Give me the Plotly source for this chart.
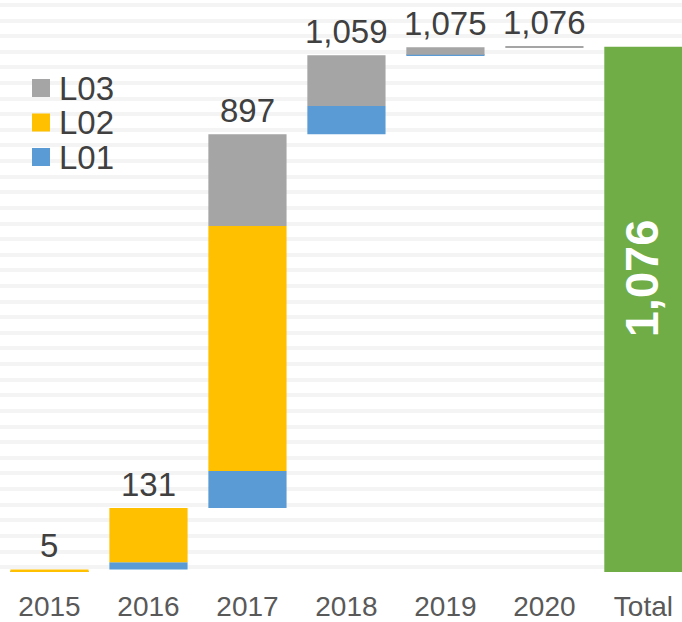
import plotly.graph_objects as go

categories = ["2015", "2016", "2017", "2018", "2019", "2020", "Total"]
years = categories[:-1]
l01 = [2, 15, 76, 58, 1, 0]
l02 = [3, 111, 502, 0, 0, 0]
l03 = [0, 0, 188, 104, 15, 1]
total_value = 1076
legend_names = ["L03", "L02", "L01"]

C_L01 = "#5B9BD5"
C_L02 = "#FFC000"
C_L03 = "#A5A5A5"
C_TOT = "#70AD47"
legend_colors = [C_L03, C_L02, C_L01]
FONT = "Liberation Sans, Arial, sans-serif"

# cumulative bases
cum = []
running = 0
for a, b, c in zip(l01, l02, l03):
    running += a + b + c
    cum.append(running)
prev = [0] + cum[:-1]
base01 = prev
base02 = [p + a for p, a in zip(prev, l01)]
base03 = [p + a + b for p, a, b in zip(prev, l01, l02)]

fig = go.Figure()
for vals, base, name, col in [(l01, base01, "L01", C_L01),
                              (l02, base02, "L02", C_L02),
                              (l03, base03, "L03", C_L03)]:
    fig.add_trace(go.Bar(x=years, y=vals, base=base, name=name, marker_color=col,
                         marker_line_width=0, hoverinfo="skip", showlegend=False))
fig.add_trace(go.Bar(x=["Total"], y=[total_value], base=[0], name="Total",
                     marker_color=C_TOT, marker_line_width=0, showlegend=False,
                     hoverinfo="skip"))

# data labels above each cumulative bar
for i, v in enumerate(cum):
    fig.add_annotation(x=i, y=v, text=f"{v:,}", showarrow=False, yanchor="middle",
                       yshift=24, font=dict(size=33, color="#404040", family=FONT))

# total label inside green bar
fig.add_annotation(x=len(years), y=total_value * 0.56, text=f"<b>{total_value:,}</b>",
                   showarrow=False, textangle=-90, xshift=-1,
                   font=dict(size=47, color="white", family=FONT))

# legend (manual, to match the compact spacing)
PLOT_H = 572
for k, (nm, col) in enumerate(zip(legend_names, legend_colors)):
    cy = 88 + 34.5 * k
    fig.add_shape(type="rect", xref="paper", yref="paper",
                  x0=32 / 682, x1=50 / 682,
                  y0=1 - (cy + 9) / PLOT_H, y1=1 - (cy - 9) / PLOT_H,
                  fillcolor=col, line_width=0)
    fig.add_annotation(xref="paper", yref="paper", x=57 / 682, y=1 - cy / PLOT_H,
                       xanchor="left", yanchor="middle", text=nm, showarrow=False,
                       font=dict(size=33, color="#404040", family=FONT))

fig.update_layout(
    width=682, height=622,
    margin=dict(l=0, r=0, t=0, b=50, autoexpand=False),
    barmode="overlay",
    bargap=0.21,
    plot_bgcolor="white", paper_bgcolor="white",
    showlegend=False,
    xaxis=dict(type="category", categoryorder="array", categoryarray=categories,
               range=[-0.5, 6.39], showgrid=False, zeroline=False, showline=False,
               automargin=False, ticks="outside", ticklen=9,
               tickcolor="rgba(0,0,0,0)",
               tickfont=dict(size=28, color="#595959", family=FONT)),
    yaxis=dict(range=[0, 1172], showticklabels=False, showgrid=True, automargin=False,
               gridcolor="#F4F4F4", gridwidth=4, tick0=10, dtick=32,
               zeroline=False, showline=False),
)

fig.write_html("out.html", config={"displayModeBar": False},
               post_script="document.body.style.margin='0';document.body.style.overflow='hidden';")
